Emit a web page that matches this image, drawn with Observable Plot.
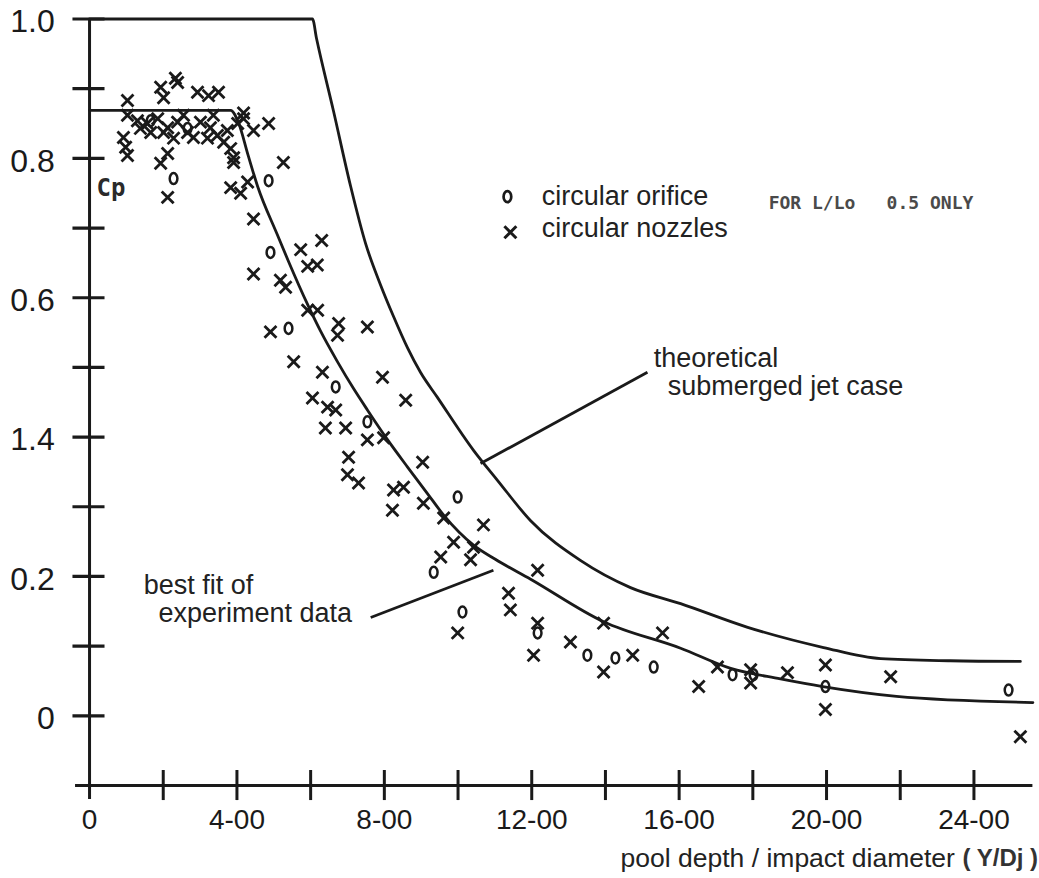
<!DOCTYPE html>
<html>
<head>
<meta charset="utf-8">
<script src="https://cdn.jsdelivr.net/npm/d3@7"></script>
<script src="https://cdn.jsdelivr.net/npm/@observablehq/plot@0.6"></script>
<style>
  html, body { margin: 0; padding: 0; background: #fff; }
  #chart svg { display: block; overflow: visible; }
</style>
</head>
<body>
<div id="chart"></div>
<script>
// ---------- data ----------
const orificeX  = [1.66, 2.28, 2.66, 4.86, 4.91, 5.40, 6.68, 7.54, 9.99, 9.34, 10.12, 12.16, 13.51, 14.27, 15.31, 17.45, 18.02, 19.97, 24.94];
const orificeCp = [0.854, 0.771, 0.843, 0.768, 0.665, 0.556, 0.472, 0.422, 0.314, 0.206, 0.149, 0.119, 0.087, 0.083, 0.070, 0.059, 0.059, 0.042, 0.037];

const nozzleX = [
  1.03, 1.93, 2.33, 2.39, 2.01, 2.93, 3.23, 3.50, 4.18, 4.02, 4.45, 4.86, 5.26, 2.12, 1.93, 2.12,
  0.98, 0.92, 3.91, 3.83, 4.10, 4.29, 4.45, 4.45, 5.18, 5.32, 5.73, 6.30, 5.92, 6.18,
  1.03, 1.30, 1.57, 1.85, 2.12, 2.39, 2.66, 2.82, 2.28, 2.01, 1.66, 1.38, 3.01, 3.28, 3.47, 3.64,
  3.83, 4.18, 3.20, 3.74, 3.91, 1.03, 2.55, 3.36,
  5.92, 6.19, 4.91, 6.76, 6.73, 7.54, 5.54, 6.32, 7.95, 6.05, 6.46, 6.68, 8.58, 6.40, 6.95, 7.54,
  7.98, 7.03, 7.00, 7.30, 9.04, 8.25, 8.52, 8.22, 9.06, 9.61, 10.69, 9.88, 10.42, 9.53, 10.34,
  12.16, 11.37, 11.42, 9.99, 12.16, 12.05, 13.05, 13.95, 13.95, 14.74, 15.55, 16.53, 17.04,
  17.94, 17.94, 18.94, 19.97, 19.97, 21.74, 25.26
];
const nozzleCp = [
  0.883, 0.902, 0.915, 0.909, 0.887, 0.895, 0.890, 0.895, 0.865, 0.850, 0.840, 0.850, 0.794, 0.807, 0.793, 0.744,
  0.816, 0.830, 0.801, 0.758, 0.750, 0.766, 0.713, 0.634, 0.625, 0.615, 0.669, 0.682, 0.645, 0.647,
  0.862, 0.854, 0.850, 0.857, 0.844, 0.852, 0.837, 0.830, 0.829, 0.837, 0.837, 0.843, 0.852, 0.844, 0.833, 0.823,
  0.814, 0.857, 0.829, 0.840, 0.794, 0.804, 0.862, 0.862,
  0.582, 0.582, 0.551, 0.563, 0.546, 0.558, 0.508, 0.493, 0.486, 0.456, 0.443, 0.439, 0.453, 0.413, 0.413, 0.396,
  0.399, 0.371, 0.346, 0.334, 0.364, 0.324, 0.328, 0.295, 0.305, 0.284, 0.274, 0.249, 0.242, 0.228, 0.224,
  0.209, 0.176, 0.152, 0.119, 0.133, 0.087, 0.106, 0.133, 0.063, 0.087, 0.119, 0.042, 0.070,
  0.066, 0.047, 0.062, 0.073, 0.009, 0.056, -0.030
];

// theoretical submerged jet case
const theoryX  = [0, 6.05, 6.16, 6.62, 7.08, 7.49, 7.90, 8.25, 8.63, 8.98, 9.44, 10.42, 11.07, 11.97, 13.32, 14.68, 16.04, 17.86, 19.92, 21.47, 23.36, 25.26];
const theoryCp = [1.0, 1.0, 0.972, 0.868, 0.761, 0.678, 0.618, 0.573, 0.528, 0.493, 0.457, 0.381, 0.338, 0.280, 0.223, 0.184, 0.161, 0.127, 0.098, 0.082, 0.079, 0.078];

// best fit of experiment data
const fitX  = [0, 3.83, 4.05, 4.30, 4.56, 5.10, 5.40, 5.92, 6.27, 6.73, 7.16, 7.54, 8.09, 8.63, 9.17, 9.61, 10.42, 11.00, 11.97, 13.95, 16.04, 17.40, 18.75, 19.90, 21.90, 25.60];
const fitCp = [0.869, 0.869, 0.850, 0.805, 0.760, 0.690, 0.652, 0.590, 0.552, 0.508, 0.470, 0.439, 0.396, 0.357, 0.319, 0.288, 0.245, 0.225, 0.196, 0.135, 0.097, 0.068, 0.053, 0.042, 0.028, 0.019];

// axes
const yTickValues = [0, 0.2, 0.4, 0.6, 0.8, 1.0];
const yTickLabels = ["0", "0.2", "1.4", "0.6", "0.8", "1.0"];
const yTickMarks  = [0, 0.1, 0.2, 0.3, 0.4, 0.5, 0.6, 0.7, 0.8, 0.9, 1.0];
const xTickValues = [0, 4, 8, 12, 16, 20, 24];
const xTickLabels = ["0", "4-00", "8-00", "12-00", "16-00", "20-00", "24-00"];
const xTickMarks  = [2, 4, 6, 8, 10, 12, 14, 16, 18, 20, 22, 24];

// ---------- build ----------
const orifice = orificeX.map((x, i) => ({x, cp: orificeCp[i]}));
const nozzles = nozzleX.map((x, i) => ({x, cp: nozzleCp[i]}));
const theory  = theoryX.map((x, i) => ({x, cp: theoryCp[i]}));
const fit     = fitX.map((x, i) => ({x, cp: fitCp[i]}));

const ink = "#1a1a1a";
const sans = "'Liberation Sans', Arial, Helvetica, sans-serif";
const mono = "'DejaVu Sans Mono', 'Liberation Mono', monospace";

// tall ellipse symbol for the "o" markers
const ellipse = {
  draw(ctx, size) {
    const r = Math.sqrt(size / Math.PI);
    const rx = r * 0.8, ry = r * 1.15, k = 0.5523;
    ctx.moveTo(rx, 0);
    ctx.bezierCurveTo(rx, ry * k, rx * k, ry, 0, ry);
    ctx.bezierCurveTo(-rx * k, ry, -rx, ry * k, -rx, 0);
    ctx.bezierCurveTo(-rx, -ry * k, -rx * k, -ry, 0, -ry);
    ctx.bezierCurveTo(rx * k, -ry, rx, -ry * k, rx, 0);
    ctx.closePath();
  }
};

const labelOf = (vals, labs) => d => {
  const i = vals.findIndex(v => Math.abs(v - d) < 1e-9);
  return i < 0 ? "" : labs[i];
};

const chart = Plot.plot({
  width: 1039,
  height: 878,
  marginLeft: 74.3,
  marginRight: 6.6,
  marginTop: 18.5,
  marginBottom: 93,
  x: {domain: [-0.4, 25.6]},
  y: {domain: [-0.1, 1.0]},
  style: {fontFamily: sans, color: ink, background: "#fff"},
  marks: [
    Plot.axisY({ticks: yTickValues, tickFormat: labelOf(yTickValues, yTickLabels), tickSize: 0, tickPadding: 20, fontSize: 32, label: null, dy: 3}),
    Plot.axisX({ticks: xTickValues, tickFormat: labelOf(xTickValues, xTickLabels), tickSize: 0, tickPadding: 24, fontSize: 28, label: null}),

    // axis lines and tick marks
    Plot.ruleX([0], {y1: 1.0, y2: -0.12, stroke: ink, strokeWidth: 3}),
    Plot.ruleY([-0.1], {x1: -0.38, x2: 25.6, stroke: ink, strokeWidth: 3}),
    Plot.ruleY(yTickMarks, {x1: -0.45, x2: 0.42, stroke: ink, strokeWidth: 3.2}),
    Plot.ruleX(xTickMarks, {y1: -0.0785, y2: -0.1216, stroke: ink, strokeWidth: 3}),

    // curves
    Plot.line(theory, {x: "x", y: "cp", curve: "monotone-x", stroke: ink, strokeWidth: 2.8}),
    Plot.line(fit, {x: "x", y: "cp", curve: "monotone-x", stroke: ink, strokeWidth: 2.8}),

    // experimental points
    Plot.dot(nozzles, {x: "x", y: "cp", symbol: "times", r: 5.5, stroke: ink, strokeWidth: 2.8}),
    Plot.dot(orifice, {x: "x", y: "cp", symbol: ellipse, r: 4.8, stroke: ink, strokeWidth: 2.5, fill: "none"}),

    // Cp label
    Plot.text(["Cp"], {x: 0.19, y: 0.757, textAnchor: "start", fontSize: 24, fontWeight: "bold", fontFamily: mono, fill: "#2a2a2a"}),

    // legend
    Plot.dot(["o"], {x: 11.34, y: 0.745, symbol: ellipse, r: 4.8, stroke: ink, strokeWidth: 2.7, fill: "none"}),
    Plot.dot(["x"], {x: 11.42, y: 0.694, symbol: "times", r: 5.5, stroke: ink, strokeWidth: 3}),
    Plot.text(["circular orifice"], {x: 12.27, y: 0.745, textAnchor: "start", fontSize: 27, fill: "#222"}),
    Plot.text(["circular nozzles"], {x: 12.27, y: 0.699, textAnchor: "start", fontSize: 27, fill: "#222"}),
    Plot.text(["FOR L/Lo"], {x: 18.43, y: 0.735, textAnchor: "start", fontSize: 18, fontWeight: "bold", fontFamily: mono, fill: "#4a4a4a"}),
    Plot.text(["0.5 ONLY"], {x: 21.63, y: 0.735, textAnchor: "start", fontSize: 18, fontWeight: "bold", fontFamily: mono, fill: "#4a4a4a"}),

    // annotations
    Plot.text(["theoretical"], {x: 15.31, y: 0.513, textAnchor: "start", fontSize: 27, fill: "#222"}),
    Plot.text(["submerged jet case"], {x: 15.69, y: 0.473, textAnchor: "start", fontSize: 27, fill: "#222"}),
    Plot.link([0], {x1: 10.61, y1: 0.362, x2: 15.14, y2: 0.493, stroke: ink, strokeWidth: 2.8}),

    Plot.text(["best fit of"], {x: 1.47, y: 0.187, textAnchor: "start", fontSize: 27, fill: "#222"}),
    Plot.text(["experiment data"], {x: 1.87, y: 0.147, textAnchor: "start", fontSize: 27, fill: "#222"}),
    Plot.link([0], {x1: 7.63, y1: 0.141, x2: 10.96, y2: 0.209, stroke: ink, strokeWidth: 2.8}),

    // x axis title
    Plot.text(["pool depth / impact diameter"], {x: 14.41, y: -0.205, textAnchor: "start", fontSize: 26.5, fill: "#222"}),
    Plot.text(["( Y/Dj )"], {x: 23.69, y: -0.205, textAnchor: "start", fontSize: 24, fontWeight: "bold", fill: "#333"})
  ]
});

document.getElementById("chart").appendChild(chart);
</script>
</body>
</html>
